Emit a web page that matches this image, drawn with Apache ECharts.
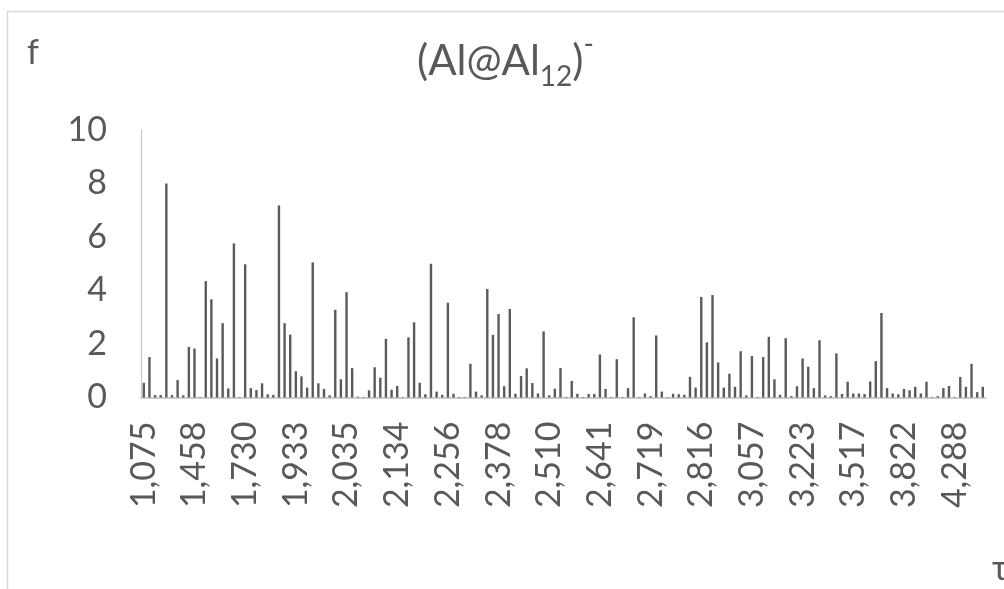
<!DOCTYPE html>
<html>
<head>
<meta charset="utf-8">
<script src="https://cdn.jsdelivr.net/npm/echarts@6/dist/echarts.min.js"></script>
<style>
html,body{margin:0;padding:0;background:#fff;}
#chart{width:1004px;height:589px;}
</style>
</head>
<body>
<div id="chart"></div>
<script>
// Tick labels shown on the category axis (every 9th category)
const tickLabels = ['1,075','1,458','1,730','1,933','2,035','2,134','2,256','2,378','2,510','2,641','2,719','2,816','3,057','3,223','3,517','3,822','4,288'];

// Oscillator strengths f (150 categories)
const fValues = [
  0.55, 1.51, 0.09, 0.09, 8.00, 0.09, 0.65, 0.08, 1.89, 1.83,
  0.02, 4.35, 3.67, 1.46, 2.78, 0.34, 5.76, 0.02, 4.98, 0.35,
  0.28, 0.53, 0.12, 0.10, 7.18, 2.78, 2.35, 0.98, 0.79, 0.37,
  5.05, 0.53, 0.32, 0.08, 3.28, 0.68, 3.94, 1.10, 0.03, 0.02,
  0.27, 1.13, 0.74, 2.19, 0.29, 0.43, 0.02, 2.25, 2.81, 0.55,
  0.12, 5.00, 0.22, 0.10, 3.54, 0.14, 0.02, 0.02, 1.26, 0.22,
  0.08, 4.06, 2.34, 3.12, 0.42, 3.31, 0.14, 0.80, 1.09, 0.54,
  0.15, 2.47, 0.08, 0.33, 1.10, 0.02, 0.62, 0.14, 0.02, 0.13,
  0.13, 1.61, 0.32, 0.02, 1.43, 0.02, 0.35, 3.00, 0.02, 0.15,
  0.05, 2.32, 0.22, 0.02, 0.14, 0.12, 0.10, 0.77, 0.37, 3.76,
  2.06, 3.83, 1.31, 0.37, 0.89, 0.40, 1.73, 0.08, 1.55, 0.02,
  1.51, 2.27, 0.68, 0.10, 2.22, 0.05, 0.42, 1.46, 1.15, 0.35,
  2.14, 0.08, 0.05, 1.65, 0.13, 0.59, 0.15, 0.15, 0.13, 0.60,
  1.36, 3.16, 0.35, 0.15, 0.12, 0.32, 0.27, 0.40, 0.15, 0.59,
  0.02, 0.05, 0.35, 0.43, 0.02, 0.77, 0.40, 1.26, 0.20, 0.40
];

// Y-axis ticks
const yTicks = [0, 2, 4, 6, 8, 10];

const labelStep = 9;
const categories = fValues.map((_, i) => (i % labelStep === 0 && tickLabels[i / labelStep] !== undefined) ? tickLabels[i / labelStep] : '');

const FONT = 'Lato, "Open Sans", sans-serif';
const TXT = '#595959';

const chart = echarts.init(document.getElementById('chart'), null, {renderer: 'canvas'});
chart.setOption({
  animation: false,
  backgroundColor: '#fff',
  title: {
    text: '{a|(Al@Al}{sub|12}{a|)}{sup|-}',
    left: 417,
    top: 31,
    padding: 0,
    textStyle: {
      fontWeight: 'normal',
      rich: {
        a: {fontFamily: FONT, fontSize: 42, fontWeight: 'normal', color: TXT, lineHeight: 60},
        sub: {fontFamily: FONT, fontSize: 28, fontWeight: 'normal', color: TXT, lineHeight: 26, verticalAlign: 'bottom'},
        sup: {fontFamily: FONT, fontSize: 28, fontWeight: 'normal', color: TXT, lineHeight: 42, verticalAlign: 'top'}
      }
    }
  },
  graphic: [
    {type: 'rect', shape: {x: 7.5, y: 11.5, width: 1010, height: 620}, style: {fill: 'none', stroke: '#d9d9d9', lineWidth: 1.5}, silent: true},
    {type: 'text', left: 27, top: 36, style: {text: 'f', font: '34px ' + FONT, fill: TXT}},
    {type: 'text', left: 992, top: 552, style: {text: 'τ', font: '34px ' + FONT, fill: TXT}}
  ],
  grid: {left: 141, top: 130, right: 18.4, bottom: 191.5, containLabel: false, outerBoundsMode: 'none'},
  xAxis: {
    type: 'category',
    data: categories,
    boundaryGap: true,
    axisLine: {show: true, lineStyle: {color: '#bfbfbf', width: 1.5}},
    axisTick: {show: false},
    splitLine: {show: false},
    axisLabel: {
      interval: labelStep - 1,
      rotate: 90,
      margin: 24,
      fontFamily: FONT,
      fontSize: 34,
      color: TXT
    }
  },
  yAxis: {
    type: 'value',
    min: yTicks[0],
    max: yTicks[yTicks.length - 1],
    interval: yTicks[1] - yTicks[0],
    axisLine: {show: true, lineStyle: {color: '#c8c8c8', width: 1.2}},
    axisTick: {show: false},
    splitLine: {show: false},
    axisLabel: {margin: 34, fontFamily: FONT, fontSize: 34, color: TXT}
  },
  series: [{
    type: 'bar',
    data: fValues,
    barWidth: 2.4,
    itemStyle: {color: '#5a5a5a'},
    silent: true
  }]
});
</script>
</body>
</html>
